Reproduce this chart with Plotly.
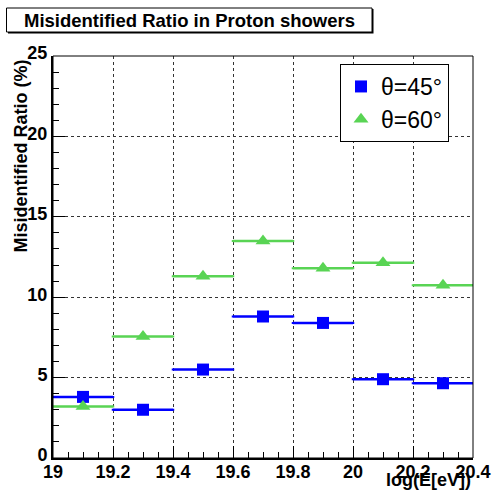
import plotly.graph_objects as go

bin_centers = [19.1, 19.3, 19.5, 19.7, 19.9, 20.1, 20.3]
bin_halfwidth = [0.1] * 7
ratio_45 = [3.8, 3.0, 5.5, 8.8, 8.4, 4.9, 4.65]
ratio_60 = [3.2, 7.55, 11.3, 13.5, 11.8, 12.15, 10.75]
x_ticks = [19, 19.2, 19.4, 19.6, 19.8, 20, 20.2, 20.4]
x_ticklabels = ["19", "19.2", "19.4", "19.6", "19.8", "20", "20.2", "20.4"]
y_ticks = [0, 5, 10, 15, 20, 25]

BLUE = "#0000FF"
GREEN = "rgb(89,212,84)"
FONT = "Liberation Sans, Arial, Helvetica, sans-serif"

fig = go.Figure()
fig.add_trace(go.Scatter(
    x=bin_centers, y=ratio_45, mode="markers", name="θ=45°",
    marker=dict(symbol="square", size=12, color=BLUE),
    error_x=dict(type="data", array=bin_halfwidth, color=BLUE, thickness=2.5, width=1),
))
fig.add_trace(go.Scatter(
    x=bin_centers, y=ratio_60, mode="markers", name="θ=60°",
    marker=dict(symbol="triangle-up", size=13, color=GREEN),
    error_x=dict(type="data", array=bin_halfwidth, color=GREEN, thickness=2.5, width=1),
))

# the page body margin is removed by a post script, so the figure fills the window
W, H = 492, 501
PL, PR, PT, PB = 53, 473, 56, 458  # plot area in window pixels
L, T, R, B = PL, PT, W - PR, H - PB
pw, ph = PR - PL, PB - PT


def px(xp):
    return (xp - PL) / pw


def py(yp):
    return (PB - yp) / ph


axis_common = dict(
    showgrid=True, gridcolor="#333333", griddash="dot", gridwidth=1,
    ticks="inside", ticklen=12, tickcolor="black", tickwidth=1,
    showline=True, linecolor="black", linewidth=2,
    tickfont=dict(family=FONT, size=18, color="black", weight="bold"),
    zeroline=False,
)

fig.update_xaxes(
    range=[19, 20.4], tickvals=x_ticks, ticktext=x_ticklabels,
    ticklabelstandoff=-4,
    minor=dict(ticks="inside", ticklen=6, dtick=0.05, tick0=19, tickcolor="black", showgrid=False),
    **axis_common,
)
fig.update_yaxes(
    range=[0, 25], tickvals=y_ticks,
    ticklabelshift=-3,
    minor=dict(ticks="inside", ticklen=6, dtick=1, tick0=0, tickcolor="black", showgrid=False),
    **axis_common,
)

shapes = [
    dict(type="rect", xref="paper", yref="paper", x0=0, x1=1, y0=0, y1=1,
         line=dict(color="black", width=1)),
    dict(type="rect", xref="paper", yref="paper", x0=px(8), x1=px(373.5), y0=py(33.5), y1=py(9),
         line=dict(width=0), fillcolor="black", layer="below"),
    dict(type="rect", xref="paper", yref="paper", x0=px(6.5), x1=px(372), y0=py(32), y1=py(8),
         line=dict(color="black", width=1), fillcolor="white"),
]

annotations = [
    dict(text="Misidentified Ratio in Proton showers", xref="paper", yref="paper",
         x=px(189.5), y=py(20.5), xanchor="center", yanchor="middle", showarrow=False,
         font=dict(family=FONT, size=18.5, color="black", weight="bold")),
    dict(text="Misidentified Ratio (%)", xref="paper", yref="paper", textangle=-90,
         x=px(20), y=py(58), xanchor="center", yanchor="top", showarrow=False,
         font=dict(family=FONT, size=18, color="black", weight="bold")),
    dict(text="log(E[eV])", xref="paper", yref="paper",
         x=1, y=py(480), xanchor="right", yanchor="middle", showarrow=False,
         font=dict(family=FONT, size=18, color="black", weight="bold")),
]

fig.update_layout(
    width=W, height=H,
    margin=dict(l=L, r=R, t=T, b=B, autoexpand=False),
    paper_bgcolor="white", plot_bgcolor="white",
    shapes=shapes, annotations=annotations,
    showlegend=True,
    hovermode=False,
    legend=dict(
        x=px(340), y=py(64), xanchor="left", yanchor="top",
        bgcolor="white", bordercolor="black", borderwidth=1,
        font=dict(family=FONT, size=23, color="black"),
        itemwidth=30, tracegroupgap=0,
    ),
)

fig.write_html(
    "out.html",
    config={"displayModeBar": False},
    post_script="document.body.style.margin='0';document.body.style.overflow='hidden';",
)
